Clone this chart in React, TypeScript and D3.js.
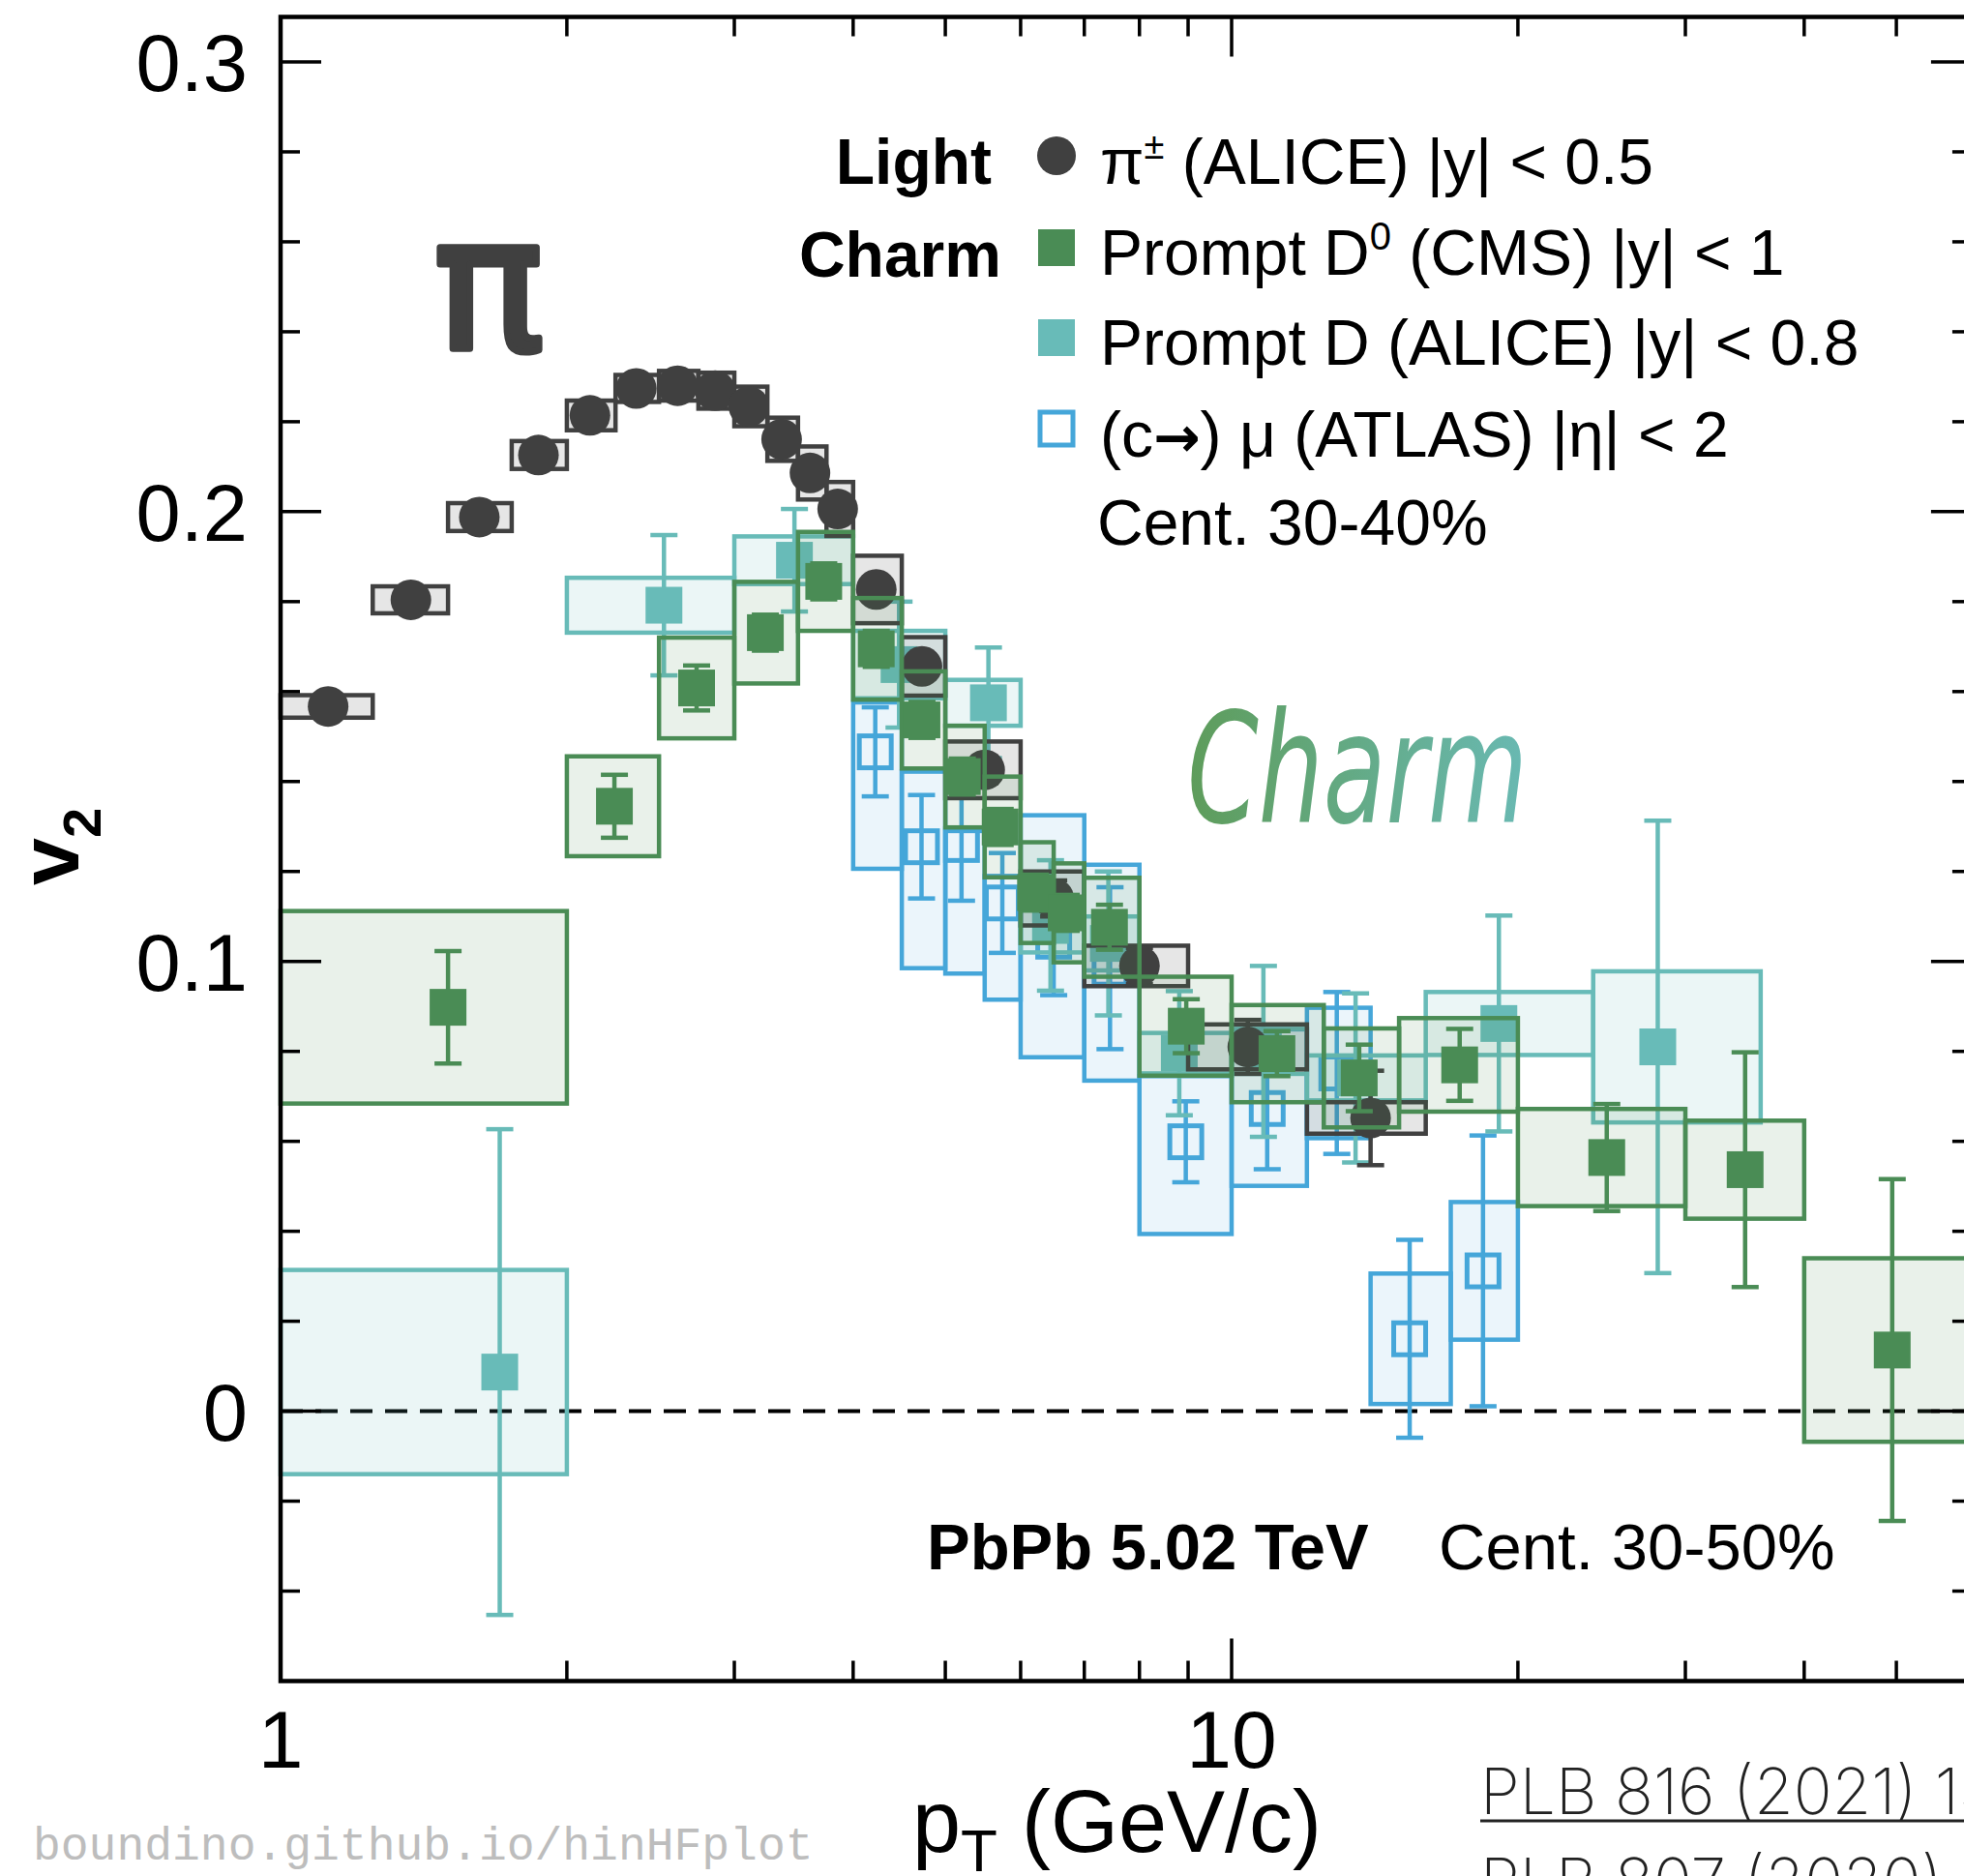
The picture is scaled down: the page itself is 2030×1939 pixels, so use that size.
import React from 'react';
import * as d3 from 'd3';

const W = 2030;
const H = 1939;

// ---------- Light: pi+- (ALICE) ----------
const pionPt = [1.122, 1.371, 1.618, 1.867, 2.115, 2.366, 2.615, 2.864, 3.107, 3.364, 3.603, 3.853, 4.23, 4.725, 5.5, 6.5, 8.0, 10.4, 14.0];
const pionV = [0.1567, 0.1804, 0.1988, 0.2126, 0.2214, 0.2274, 0.228, 0.2269, 0.2234, 0.2161, 0.2086, 0.2006, 0.1827, 0.1656, 0.1426, 0.114, 0.099, 0.081, 0.0652];
const pionStat = [0.001, 0.001, 0.001, 0.001, 0.001, 0.001, 0.001, 0.001, 0.001, 0.001, 0.0015, 0.0015, 0.002, 0.002, 0.003, 0.004, 0.004, 0.006, 0.0105];
const pionSys = [0.0025, 0.003, 0.0031, 0.0031, 0.0033, 0.003, 0.0033, 0.004, 0.0044, 0.0048, 0.0059, 0.006, 0.0075, 0.0065, 0.0063, 0.006, 0.0045, 0.005, 0.0035];
const pionEdges = [1, 1.25, 1.5, 1.75, 2, 2.25, 2.5, 2.75, 3, 3.25, 3.5, 3.75, 4, 4.5, 5, 6, 7, 9, 12, 16];

// ---------- Charm: prompt D0 (CMS) ----------
const cmsPt = [1.5, 2.244, 2.738, 3.234, 3.725, 4.23, 4.725, 5.21, 5.71, 6.22, 6.7, 7.44, 8.96, 11.16, 13.62, 17.37, 24.8, 34.67, 49.5];
const cmsV = [0.0898, 0.1345, 0.1608, 0.1731, 0.1845, 0.1695, 0.1537, 0.1411, 0.1299, 0.1153, 0.1108, 0.1076, 0.0856, 0.0795, 0.0741, 0.077, 0.0564, 0.0537, 0.0136];
const cmsStat = [0.0125, 0.007, 0.005, 0.004, 0.004, 0.004, 0.004, 0.004, 0.004, 0.004, 0.004, 0.005, 0.006, 0.005, 0.0074, 0.008, 0.0119, 0.0261, 0.038];
const cmsSys = [0.0214, 0.0111, 0.0112, 0.0113, 0.011, 0.0113, 0.0108, 0.0113, 0.0112, 0.0112, 0.011, 0.011, 0.011, 0.0108, 0.011, 0.0104, 0.0108, 0.0109, 0.0204];
const cmsEdges = [1, 2, 2.5, 3, 3.5, 4, 4.5, 5, 5.5, 6, 6.5, 7, 8, 10, 12.5, 15, 20, 30, 40, 60];

// ---------- Charm: prompt D (ALICE) ----------
const aliceDPt = [1.7, 2.53, 3.47, 4.47, 5.55, 6.45, 7.42, 8.81, 10.8, 13.5, 19.1, 28.06];
const aliceDV = [0.0087, 0.1792, 0.1892, 0.166, 0.1575, 0.108, 0.104, 0.0796, 0.08, 0.0741, 0.0862, 0.081];
const aliceDStat = [0.054, 0.0156, 0.0114, 0.014, 0.0123, 0.0145, 0.016, 0.0138, 0.019, 0.0188, 0.024, 0.0503];
const aliceDSys = [0.0227, 0.0061, 0.0053, 0.0075, 0.0051, 0.006, 0.006, 0.0045, 0.005, 0.005, 0.007, 0.0168];
const aliceDEdges = [1, 2, 3, 4, 5, 6, 7, 8, 10, 12, 16, 24, 36];

// ---------- Charm: (c->) mu (ATLAS) ----------
const atlasPt = [4.22, 4.72, 5.2, 5.74, 6.5, 7.45, 8.95, 10.9, 12.9, 15.39, 18.38];
const atlasV = [0.1466, 0.1255, 0.126, 0.113, 0.1045, 0.0985, 0.0599, 0.0673, 0.0752, 0.0161, 0.0312];
const atlasStat = [0.0099, 0.0115, 0.0125, 0.0111, 0.012, 0.018, 0.009, 0.0135, 0.018, 0.022, 0.0301];
const atlasSysHi = [0.011, 0.0167, 0.003, 0.006, 0.028, 0.023, 0.0146, 0.0176, 0.0145, 0.0145, 0.0153];
const atlasSysLo = [0.026, 0.027, 0.0287, 0.0215, 0.0258, 0.025, 0.0205, 0.0172, 0.0145, 0.0145, 0.0153];
const atlasEdges = [4, 4.5, 5, 5.5, 6, 7, 8, 10, 12, 14, 17, 20];

// ---------- axes ----------
const xMinorTicks = [2, 3, 4, 5, 6, 7, 8, 9, 20, 30, 40, 50];
const xMajorTicks = [10];
const xTickLabels = [1, 10];
const yMajorTicks = [0, 0.1, 0.2, 0.3];
const yMinorTicks = [-0.04, -0.02, 0.02, 0.04, 0.06, 0.08, 0.12, 0.14, 0.16, 0.18, 0.22, 0.24, 0.26, 0.28];

const legendLabels = ['(ALICE) |y| < 0.5', '(CMS) |y| < 1', 'Prompt D (ALICE) |y| < 0.8', '(ATLAS) |η| < 2'];

const C_DARK = '#404040';
const C_GREEN = '#4a8c55';
const C_TEAL = '#68bbb8';
const C_BLUE = '#45a6d9';

const FONT = "'Liberation Sans', Arial, Helvetica, sans-serif";

type Pt = { p: number; v: number; stat: number; hi: number; lo: number; x0: number; x1: number };

function build(pt: number[], v: number[], stat: number[], sysHi: number[], sysLo: number[], edges: number[]): Pt[] {
  return pt.map((p, i) => ({ p, v: v[i], stat: stat[i], hi: sysHi[i], lo: sysLo[i], x0: edges[i], x1: edges[i + 1] }));
}

function Series({ data, x, y, color, boxFill, boxOpacity, marker }: any) {
  const cap = 14;
  return (
    <g>
      {data.map((d: Pt, i: number) => (
        <rect key={'b' + i} x={x(d.x0)} y={y(d.v + d.hi)} width={x(d.x1) - x(d.x0)} height={y(d.v - d.lo) - y(d.v + d.hi)}
          fill={boxFill} fillOpacity={boxOpacity} stroke={color} strokeWidth={4.5} />
      ))}
      {data.map((d: Pt, i: number) => (
        <g key={'e' + i} stroke={color} strokeWidth={4.5}>
          <line x1={x(d.p)} x2={x(d.p)} y1={y(d.v + d.stat)} y2={y(d.v - d.stat)} />
          <line x1={x(d.p) - cap} x2={x(d.p) + cap} y1={y(d.v + d.stat)} y2={y(d.v + d.stat)} />
          <line x1={x(d.p) - cap} x2={x(d.p) + cap} y1={y(d.v - d.stat)} y2={y(d.v - d.stat)} />
        </g>
      ))}
      {data.map((d: Pt, i: number) => {
        if (marker === 'circle') return <circle key={'m' + i} cx={x(d.p)} cy={y(d.v)} r={21} fill={color} />;
        if (marker === 'square') return <rect key={'m' + i} x={x(d.p) - 19} y={y(d.v) - 19} width={38} height={38} fill={color} />;
        return <rect key={'m' + i} x={x(d.p) - 16.5} y={y(d.v) - 16.5} width={33} height={33} fill="none" stroke={color} strokeWidth={5} />;
      })}
    </g>
  );
}

export default function App() {
  const x = d3.scaleLog().domain([1, 60]).range([290, 290 + 983 * Math.log10(60)]);
  const y = d3.scaleLinear().domain([-0.06, 0.31]).range([1737.5, 17.5]);
  const [xL, xR] = x.range();
  const [yB, yT] = y.range();

  const pion = build(pionPt, pionV, pionStat, pionSys, pionSys, pionEdges);
  const cms = build(cmsPt, cmsV, cmsStat, cmsSys, cmsSys, cmsEdges);
  const aliceD = build(aliceDPt, aliceDV, aliceDStat, aliceDSys, aliceDSys, aliceDEdges);
  const atlas = build(atlasPt, atlasV, atlasStat, atlasSysHi, atlasSysLo, atlasEdges);

  const legX = 1092;
  const legTextX = 1137;
  const rows = [161, 256, 349, 443];
  const baselines = [190, 284, 377, 472];

  return (
    <svg width={W} height={H} viewBox={`0 0 ${W} ${H}`} style={{ position: 'absolute', left: 0, top: 0, background: '#fff' }}
      fontFamily={FONT}>
      <defs>
        <linearGradient id="charmGrad" x1="0" x2="1" y1="0" y2="0">
          <stop offset="0" stopColor="#5e9c5a" />
          <stop offset="1" stopColor="#69b9b3" />
        </linearGradient>
      </defs>
      <rect x={0} y={0} width={W} height={H} fill="#fff" />

      {/* zero line */}
      <line x1={xL} x2={xR} y1={y(0)} y2={y(0)} stroke="#000" strokeWidth={4} strokeDasharray="23 13" />

      {/* data */}
      <Series data={atlas} x={x} y={y} color={C_BLUE} boxFill={C_BLUE} boxOpacity={0.11} marker="open" />
      <Series data={aliceD} x={x} y={y} color={C_TEAL} boxFill={C_TEAL} boxOpacity={0.13} marker="square" />
      <Series data={pion} x={x} y={y} color={C_DARK} boxFill={C_DARK} boxOpacity={0.13} marker="circle" />
      <Series data={cms} x={x} y={y} color={C_GREEN} boxFill={C_GREEN} boxOpacity={0.12} marker="square" />

      {/* frame */}
      <rect x={xL} y={yT} width={xR - xL} height={yB - yT} fill="none" stroke="#000" strokeWidth={4.5} />
      <g stroke="#000" strokeWidth={3.5}>
        {xMinorTicks.map((t) => (
          <g key={'xm' + t}>
            <line x1={x(t)} x2={x(t)} y1={yB} y2={yB - 21} />
            <line x1={x(t)} x2={x(t)} y1={yT} y2={yT + 20} />
          </g>
        ))}
        {xMajorTicks.map((t) => (
          <g key={'xM' + t}>
            <line x1={x(t)} x2={x(t)} y1={yB} y2={yB - 44} />
            <line x1={x(t)} x2={x(t)} y1={yT} y2={yT + 41} />
          </g>
        ))}
        {yMinorTicks.map((t) => (
          <g key={'ym' + t}>
            <line x1={xL} x2={xL + 20} y1={y(t)} y2={y(t)} />
            <line x1={xR} x2={xR - 20} y1={y(t)} y2={y(t)} />
          </g>
        ))}
        {yMajorTicks.map((t) => (
          <g key={'yM' + t}>
            <line x1={xL} x2={xL + 42} y1={y(t)} y2={y(t)} />
            <line x1={xR} x2={xR - 42} y1={y(t)} y2={y(t)} />
          </g>
        ))}
      </g>

      {/* tick labels */}
      {yMajorTicks.map((t) => (
        <text key={'yl' + t} x={256} y={y(t) + 30} fontSize={83} textAnchor="end" fill="#000">{t === 0 ? '0' : d3.format('.1f')(t)}</text>
      ))}
      {xTickLabels.map((t) => (
        <text key={'xl' + t} x={x(t)} y={1827} fontSize={84} textAnchor="middle" fill="#000">{String(t)}</text>
      ))}

      {/* axis titles */}
      <text x={943} y={1914} fontSize={90} fill="#000">
        <tspan>p</tspan>
        <tspan fontSize={62} dy={20}>T</tspan>
        <tspan dy={-20}> (GeV/c)</tspan>
      </text>
      <text transform="translate(81,915) rotate(-90)" fontSize={88} fontWeight="bold" fill="#000">
        <tspan>v</tspan>
        <tspan fontSize={56} dy={23}>2</tspan>
      </text>

      {/* legend */}
      <text x={1025} y={baselines[0]} fontSize={66} fontWeight="bold" textAnchor="end" fill="#000">Light</text>
      <text x={1035} y={baselines[1] + 2} fontSize={66} fontWeight="bold" textAnchor="end" fill="#000">Charm</text>
      <circle cx={legX} cy={rows[0]} r={20} fill={C_DARK} />
      <rect x={legX - 19} y={rows[1] - 19} width={38} height={38} fill={C_GREEN} />
      <rect x={legX - 19} y={rows[2] - 19} width={38} height={38} fill={C_TEAL} />
      <rect x={legX - 17} y={rows[3] - 17} width={34} height={34} fill="none" stroke={C_BLUE} strokeWidth={5} />
      <text x={legTextX} y={baselines[0]} fontSize={66} fill="#000">
        <tspan>π</tspan><tspan fontSize={38} dy={-26}>±</tspan><tspan dy={26}> {legendLabels[0]}</tspan>
      </text>
      <text x={legTextX} y={baselines[1]} fontSize={66} fill="#000">
        <tspan>Prompt D</tspan><tspan fontSize={40} dy={-26}>0</tspan><tspan dy={26}> {legendLabels[1]}</tspan>
      </text>
      <text x={legTextX} y={baselines[2]} fontSize={66} fill="#000">{legendLabels[2]}</text>
      <text x={legTextX} y={baselines[3]} fontSize={66} fill="#000">
        <tspan>(c</tspan>
        <tspan fontFamily="'DejaVu Sans', sans-serif" fontWeight="bold" fontSize={58}>→</tspan>
        <tspan>) μ </tspan><tspan>{legendLabels[3]}</tspan>
      </text>
      <text x={1134} y={563} fontSize={66} fill="#000">Cent. 30-40%</text>

      {/* handwritten annotations */}
      <text x={448} y={360} fontSize={190} fontFamily="'DejaVu Sans', sans-serif" fill={C_DARK}
        stroke={C_DARK} strokeWidth={7} strokeLinejoin="round">π</text>
      <text x={1227} y={850} fontSize={158} fontStyle="italic" fontFamily="'DejaVu Sans', sans-serif" fill="url(#charmGrad)"
        textLength={352} lengthAdjust="spacingAndGlyphs">Charm</text>

      {/* system info */}
      <text x={958} y={1622} fontSize={67} fontWeight="bold" fill="#000">PbPb 5.02 TeV</text>
      <text x={1487} y={1622} fontSize={67} fill="#000">Cent. 30-50%</text>

      {/* references */}
      <text x={1530} y={1875} fontSize={66} fontWeight={200} fontFamily="Inter, Roboto, sans-serif" fill="#222">PLB 816 (2021) 136253</text>
      <line x1={1530} x2={2030} y1={1882} y2={1882} stroke="#222" strokeWidth={3} />
      <text x={1530} y={1968} fontSize={66} fontWeight={200} fontFamily="Inter, Roboto, sans-serif" fill="#222">PLB 807 (2020) 135595</text>

      {/* watermark */}
      <text x={34} y={1922} fontSize={48} fontFamily="'Liberation Mono', 'DejaVu Sans Mono', monospace" fill="#bdbdbd">boundino.github.io/hinHFplot</text>
    </svg>
  );
}
